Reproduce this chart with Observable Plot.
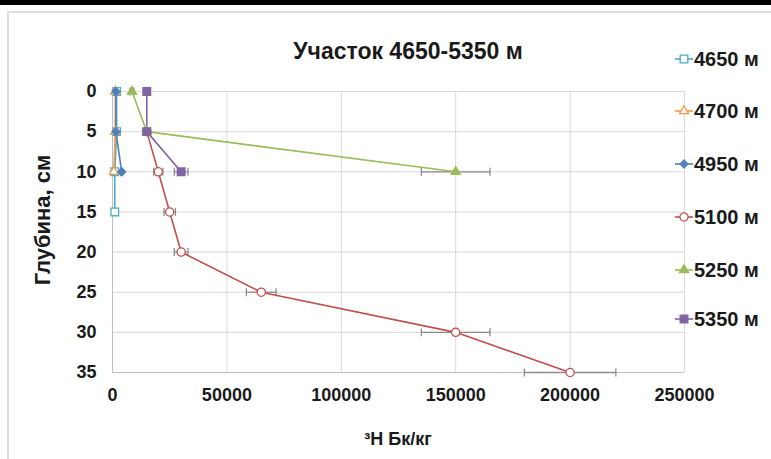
<!DOCTYPE html>
<html>
<head>
<meta charset="utf-8">
<script src="https://cdn.jsdelivr.net/npm/d3@7"></script>
<script src="https://cdn.jsdelivr.net/npm/@observablehq/plot@0.6"></script>
<style>
  html, body { margin: 0; padding: 0; background: #fff; }
  #wrap { position: relative; width: 771px; height: 459px; overflow: hidden; font-family: "Liberation Sans", Arial, sans-serif; font-weight: bold; color: #1a1a1a; }
  #topbar { position: absolute; left: 0; top: 0; width: 771px; height: 5px; background: #000; }
  #frame { position: absolute; left: 7px; top: 11px; width: 800px; height: 500px; border-left: 2px solid #dedede; border-top: 2px solid #dedede; }
  #chart { position: absolute; left: 0; top: 0; }
  .lbl { position: absolute; white-space: nowrap; }
  #title { left: 408px; top: 51px; transform: translate(-50%, -50%); font-size: 23px; }
  #ytitle { left: 43px; top: 220px; transform: translate(-50%, -50%) rotate(-90deg); font-size: 22px; }
  #xtitle { left: 398px; top: 439px; transform: translate(-50%, -50%); font-size: 18px; }
  .leg { position: absolute; left: 675px; height: 20px; display: flex; align-items: center; font-size: 20px; }
  .leg svg { display: block; margin-right: 1px; }
</style>
</head>
<body>
<div id="wrap">
  <div id="topbar"></div>
  <div id="frame"></div>
  <div id="chart"></div>
  <div id="title" class="lbl">Участок 4650-5350 м</div>
  <div id="ytitle" class="lbl">Глубина, см</div>
  <div id="xtitle" class="lbl">³H Бк/кг</div>
</div>
<script>
// ---- data ----
const seriesNames = ["4650 м", "4700 м", "4950 м", "5100 м", "5250 м", "5350 м"];
const seriesColors = ["#4bacc6", "#f79646", "#4f81bd", "#c0504d", "#9bbb59", "#8064a2"];
const seriesSymbols = ["square", "triangle", "diamond2", "circle", "triangle", "square"];
const seriesOpen = [true, true, false, true, false, false];

const depth4650 = [0, 5, 10, 15];
const h3_4650 = [1800, 1800, 1000, 1000];
const depth4700 = [0, 5, 10];
const h3_4700 = [1200, 1200, 600];
const depth4950 = [0, 5, 10];
const h3_4950 = [1500, 1500, 4000];
const depth5100 = [5, 10, 15, 20, 25, 30, 35];
const h3_5100 = [15000, 20000, 25000, 30000, 65000, 150000, 200000];
const depth5250 = [0, 5, 10];
const h3_5250 = [8500, 15000, 150000];
const depth5350 = [0, 5, 10];
const h3_5350 = [15000, 15000, 30000];

const errorFraction = 0.1;

const xTicks = [0, 50000, 100000, 150000, 200000, 250000];
const yTicks = [0, 5, 10, 15, 20, 25, 30, 35];

// ---- build table ----
const depthsAll = [depth4650, depth4700, depth4950, depth5100, depth5250, depth5350];
const valuesAll = [h3_4650, h3_4700, h3_4950, h3_5100, h3_5250, h3_5350];
const rows = [];
seriesNames.forEach((name, i) => {
  depthsAll[i].forEach((d, j) => {
    const v = valuesAll[i][j];
    rows.push({series: name, depth: d, value: v, lo: v * (1 - errorFraction), hi: v * (1 + errorFraction)});
  });
});

const capSymbol = {
  draw(context, size) {
    const h = Math.sqrt(size / Math.PI);
    context.moveTo(0, -h);
    context.lineTo(0, h);
  }
};

const symbolSizes = {square: 4.3, triangle: 3.4, diamond2: 3.6, circle: 4.1};

const dotMarks = seriesNames.map((name, i) => Plot.dot(rows.filter(r => r.series === name), {
  x: "value", y: "depth",
  symbol: seriesSymbols[i],
  r: symbolSizes[seriesSymbols[i]],
  stroke: seriesColors[i],
  fill: seriesOpen[i] ? "white" : seriesColors[i],
  strokeWidth: 1.3
}));

const chart = Plot.plot({
  width: 771,
  height: 459,
  marginLeft: 112,
  marginRight: 87,
  marginTop: 91,
  marginBottom: 87,
  style: {fontFamily: "'Liberation Sans', Arial, sans-serif", fontSize: "18px", fontWeight: "bold", color: "#1a1a1a", background: "transparent"},
  x: {domain: [0, 250000], ticks: xTicks, tickFormat: d3.format("d"), tickSize: 0, tickPadding: 16, label: null},
  y: {domain: [0, 35], reverse: true, ticks: yTicks, tickSize: 0, tickPadding: 16, label: null},
  color: {domain: seriesNames, range: seriesColors},
  marks: [
    Plot.gridX({ticks: xTicks, stroke: "#d9d9d9", strokeOpacity: 1}),
    Plot.gridY({ticks: yTicks, stroke: "#d9d9d9", strokeOpacity: 1}),
    Plot.ruleX([0], {stroke: "#bfbfbf"}),
    Plot.ruleY([35], {stroke: "#bfbfbf"}),
    Plot.link(rows, {x1: "lo", x2: "hi", y1: "depth", y2: "depth", stroke: "#8c8c8c", strokeWidth: 1.3}),
    Plot.dot(rows, {x: "lo", y: "depth", symbol: capSymbol, r: 4, stroke: "#8c8c8c", strokeWidth: 1.3}),
    Plot.dot(rows, {x: "hi", y: "depth", symbol: capSymbol, r: 4, stroke: "#8c8c8c", strokeWidth: 1.3}),
    Plot.line(rows, {x: "value", y: "depth", z: "series", stroke: "series", strokeWidth: 1.6}),
    ...dotMarks
  ]
});
document.getElementById("chart").appendChild(chart);

// ---- legend ----
const legendY = [59, 111, 164, 217, 270, 319];
const wrap = document.getElementById("wrap");
const symMap = {square: d3.symbolSquare, triangle: d3.symbolTriangle, diamond2: d3.symbolDiamond2, circle: d3.symbolCircle};
seriesNames.forEach((name, i) => {
  const item = document.createElement("div");
  item.className = "leg";
  item.style.top = (legendY[i] - 10) + "px";
  const svg = d3.create("svg").attr("width", 18).attr("height", 20);
  svg.append("line").attr("x1", 0).attr("x2", 18).attr("y1", 10).attr("y2", 10)
    .attr("stroke", seriesColors[i]).attr("stroke-width", 1.6);
  const r = symbolSizes[seriesSymbols[i]];
  svg.append("path").attr("transform", "translate(9,10)")
    .attr("d", d3.symbol(symMap[seriesSymbols[i]], Math.PI * r * r)())
    .attr("stroke", seriesColors[i]).attr("stroke-width", 1.3)
    .attr("fill", seriesOpen[i] ? "white" : seriesColors[i]);
  item.appendChild(svg.node());
  const t = document.createElement("span");
  t.textContent = name;
  item.appendChild(t);
  wrap.appendChild(item);
});
</script>
</body>
</html>
